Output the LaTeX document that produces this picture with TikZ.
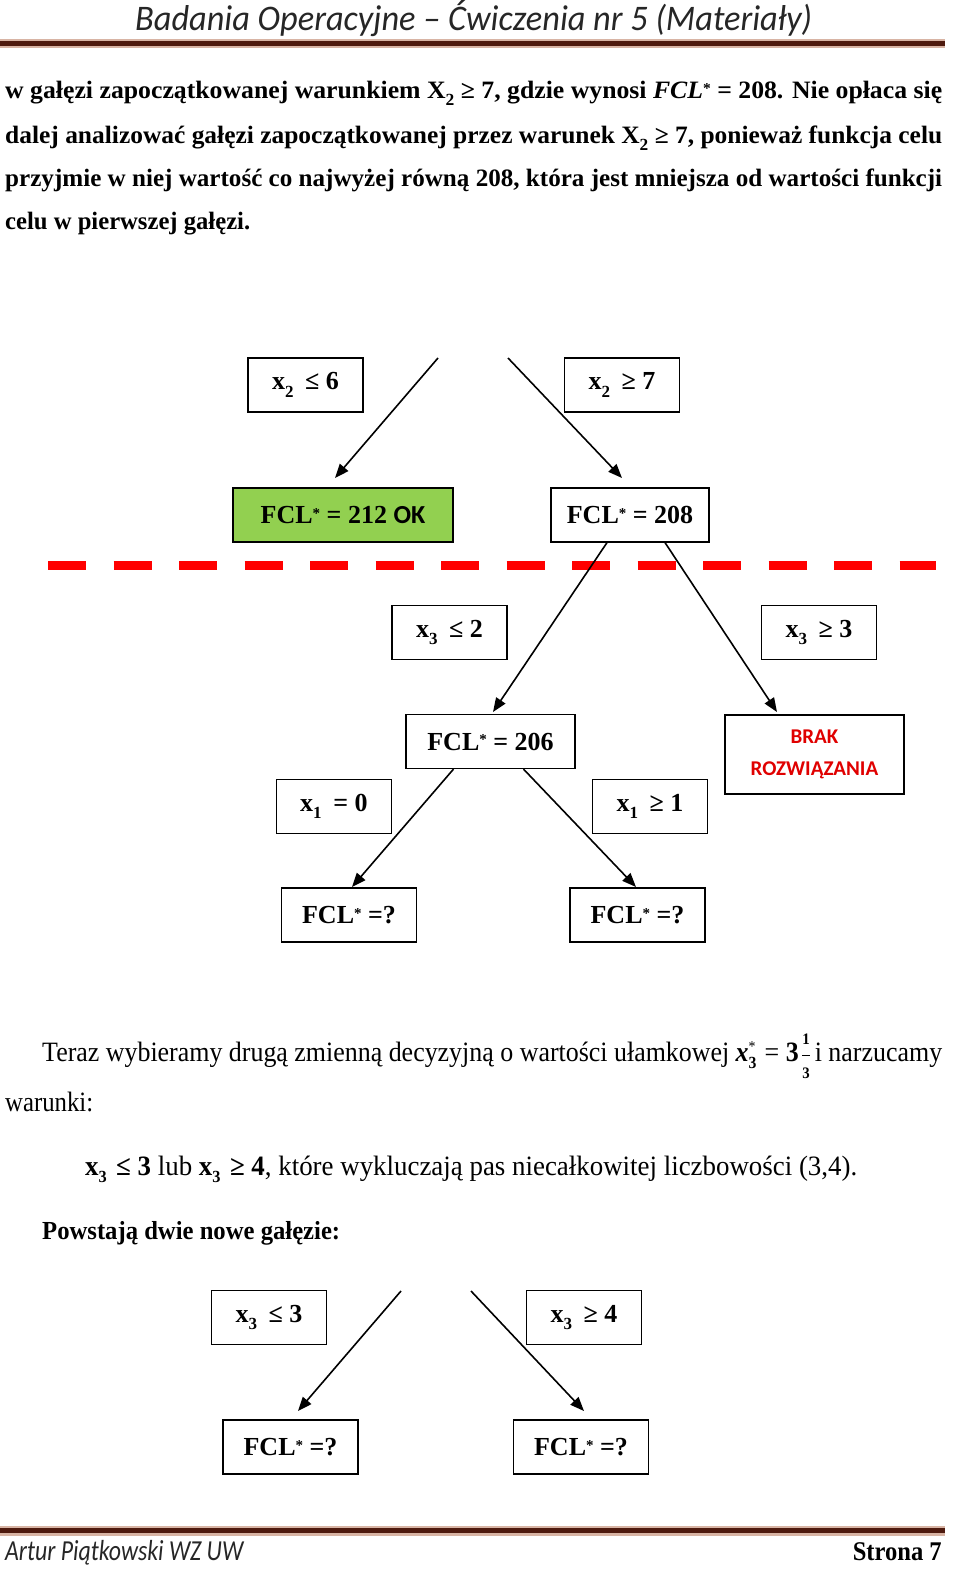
\documentclass[tikz,border=0pt]{standalone}
\usepackage{fontspec}
\usepackage{graphicx}
\setmainfont{Liberation Serif}
\newfontfamily\calib{Carlito}
\usetikzlibrary{arrows.meta}
\definecolor{okgreen}{HTML}{92D050}
\definecolor{brakred}{HTML}{E00000}
\definecolor{rulebrown}{HTML}{4E1A0E}
\definecolor{rulelight}{HTML}{D8B4A4}
\definecolor{dashred}{HTML}{FF0000}
\definecolor{headgray}{HTML}{262626}
\newcommand{\lo}[1]{\raisebox{-0.28em}{\fontsize{17}{17}\selectfont #1}}
\newcommand{\hi}[1]{\raisebox{0.2em}{\fontsize{15}{15}\selectfont #1}}
\newcommand{\fitw}[2]{\resizebox{#1}{\height}{#2}}
\newcommand{\condx}[3]{x\lo{#1}\hspace{0.45em}#2\hspace{0.25em}#3}
\newcommand{\fcl}{FCL\hi{*}}
\newcommand{\fr}[1]{\mbox{\fontsize{16}{16}\selectfont\bfseries #1}}
\begin{document}
\begin{tikzpicture}[x=1pt,y=-1pt,
  box/.style={draw, line width=1.2pt, inner sep=0pt, align=center,
    font=\fontsize{26}{30}\selectfont\bfseries},
  cond/.style={box, minimum width=115pt, minimum height=54pt},
  fclq/.style={box, minimum width=135pt, minimum height=54pt},
  arr/.style={line width=1.6pt, -{Triangle[length=14pt,width=11pt]}},
  txt/.style={inner sep=0pt, anchor=base west},
  bodyb/.style={txt, font=\fontsize{25}{29}\selectfont\bfseries},
  bodyr/.style={txt, font=\fontsize{28}{32}\selectfont},
]
\useasboundingbox (0,0) rectangle (960,1592);
\fill[white] (0,0) rectangle (960,1592);

% header
\node[txt, font=\fontsize{36}{38}\selectfont\calib\itshape, text=headgray] (head) at (135,31)
  {\fitw{677pt}{Badania Operacyjne – Ćwiczenia nr 5 (Materiały)}};
\fill[rulelight] (0,39.5) rectangle (945,48);
\fill[rulebrown] (0,41) rectangle (945,46);

% top paragraph
\node[bodyb] (p1) at (5,99) {\fitw{937pt}{w gałęzi zapoczątkowanej warunkiem X\lo{2} ≥ 7, gdzie wynosi \textit{FCL}\hi{*} = 208. Nie opłaca się}};
\node[bodyb] (p2) at (5,143) {\fitw{937pt}{dalej analizować gałęzi zapoczątkowanej przez warunek X\lo{2} ≥ 7, ponieważ funkcja celu}};
\node[bodyb] (p3) at (5,186) {\fitw{937pt}{przyjmie w niej wartość co najwyżej równą 208, która jest mniejsza od wartości funkcji}};
\node[bodyb] (p4) at (5,229) {\fitw{245pt}{celu w pierwszej gałęzi.}};

% tree 1
\node[cond] (c26) at (305.5,385) {\condx{2}{≤}{6}};
\node[cond] (c27) at (622,385) {\condx{2}{≥}{7}};
\node[box, fill=okgreen, minimum width=220pt, minimum height=54pt] (n212) at (343,515) {\fcl{} = 212 {\calib OK}};
\node[box, minimum width=158pt, minimum height=54pt] (n208) at (630,515) {\fcl{} = 208};
\coordinate (a1s) at (438,358);
\coordinate (a1e) at (335,478);
\coordinate (a2s) at (508,358);
\coordinate (a2e) at (622,478);
\draw[arr] (a1s) -- (a1e);
\draw[arr] (a2s) -- (a2e);

% red dashed cut line
\draw[dashred, line width=9pt, dash pattern=on 38pt off 27.5pt] (48,565) -- (936,565);

% tree 2
\node[cond] (c32) at (449.5,632.5) {\condx{3}{≤}{2}};
\node[cond] (c33) at (819,632.5) {\condx{3}{≥}{3}};
\node[box, minimum width=169pt, minimum height=54pt] (n206) at (490.5,741.5) {\fcl{} = 206};
\node[box, minimum width=179pt, minimum height=79pt, text=brakred,
  font=\fontsize{21}{32}\selectfont\calib\bfseries] (brak) at (814.5,754.5) {BRAK\\ROZWIĄZANIA};
\coordinate (b1e) at (493,712);
\coordinate (b2e) at (777,712);
\draw[arr] ([xshift=-23pt]n208.south) -- (b1e);
\draw[arr] ([xshift=35pt]n208.south) -- (b2e);

\node[cond] (c10) at (334,806.5) {\condx{1}{=}{0}};
\node[cond] (c11) at (650,806.5) {\condx{1}{≥}{1}};
\node[fclq] (q1) at (349,915) {\fcl{} =?};
\node[fclq] (q2) at (637.5,915) {\fcl{} =?};
\coordinate (d1e) at (352,887);
\coordinate (d2e) at (636,887);
\draw[arr] ([xshift=-37pt]n206.south) -- (d1e);
\draw[arr] ([xshift=33pt]n206.south) -- (d2e);

% second paragraph
\node[bodyr] (t1) at (42,1061) {\fitw{900pt}{Teraz wybieramy drugą zmienną decyzyjną o wartości ułamkowej {\bfseries\itshape x}\rlap{\lo{\bfseries 3}}\raisebox{0.35em}{\fontsize{15}{15}\selectfont *}\hspace{0.35em}= {\bfseries 3}\hspace{0.1em}$\displaystyle\frac{\fr{1}}{\fr{3}}$\hspace{0.15em}i narzucamy}};
\node[bodyr] (t2) at (5,1111) {\fitw{88pt}{warunki:}};
\node[bodyr] (t3) at (85,1175) {\fitw{772pt}{{\bfseries x\lo{3}\hspace{0.35em}≤ 3} lub {\bfseries x\lo{3}\hspace{0.35em}≥ 4}, które wykluczają pas niecałkowitej liczbowości (3,4).}};
\node[txt, font=\fontsize{26}{30}\selectfont\bfseries] (t4) at (42,1239) {\fitw{298pt}{Powstają dwie nowe gałęzie:}};

% tree 3
\node[cond] (c33b) at (269,1317.5) {\condx{3}{≤}{3}};
\node[cond] (c34) at (584,1317.5) {\condx{3}{≥}{4}};
\node[fclq] (q3) at (290.5,1447) {\fcl{} =?};
\node[fclq] (q4) at (581,1447) {\fcl{} =?};
\coordinate (e1s) at (401,1291);
\coordinate (e1e) at (298,1411);
\coordinate (e2s) at (471,1291);
\coordinate (e2e) at (584,1411);
\draw[arr] (e1s) -- (e1e);
\draw[arr] (e2s) -- (e2e);

% footer
\fill[rulelight] (0,1526) rectangle (945,1536);
\fill[rulebrown] (0,1527.5) rectangle (945,1533);
\node[txt, font=\fontsize{29}{32}\selectfont\calib\itshape, text=headgray] (foot1) at (5,1560) {\fitw{238pt}{Artur Piątkowski WZ UW}};
\node[txt, font=\fontsize{27}{30}\selectfont\bfseries, anchor=base east] (foot2) at (942,1560) {\fitw{89pt}{Strona 7}};
\end{tikzpicture}
\end{document}
